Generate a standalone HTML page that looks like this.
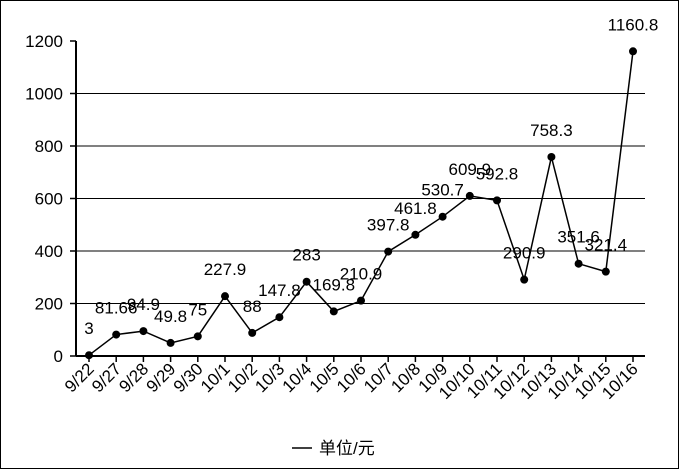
<!DOCTYPE html>
<html><head><meta charset="utf-8"><style>
body{margin:0;background:#fff}
svg text{font-family:"Liberation Sans","Noto Sans CJK SC",sans-serif;fill:#000}
</style></head><body>
<svg id="c" width="679" height="469" xmlns="http://www.w3.org/2000/svg">
<rect x="0.5" y="0.5" width="678" height="468" fill="#fff" stroke="#000"/>
</svg>
<script>
const categories=["9/22","9/27","9/28","9/29","9/30","10/1","10/2","10/3","10/4","10/5","10/6","10/7","10/8","10/9","10/10","10/11","10/12","10/13","10/14","10/15","10/16"];
const values=[3,81.66,94.9,49.8,75,227.9,88,147.8,283,169.8,210.9,397.8,461.8,530.7,609.9,592.8,290.9,758.3,351.6,321.4,1160.8];
const yTicks=[0,200,400,600,800,1000,1200];
const svg=document.getElementById('c');
const NS='http://www.w3.org/2000/svg';
const x0=89,x1=633,yBase=356,yTop=41,yMax=1200,axisX=76,gridR=645;
function sx(i){return x0+(x1-x0)*i/(categories.length-1);}
function sy(v){return yBase-(yBase-yTop)*v/yMax;}
function mk(t,a){const e=document.createElementNS(NS,t);for(const k in a)e.setAttribute(k,a[k]);svg.appendChild(e);return e;}
yTicks.forEach(t=>{
  const y=sy(t);
  if(t>0&&t<yMax){const g=mk('line',{x1:axisX,x2:gridR,y1:y,y2:y,stroke:'#000','stroke-width':1});
  
  }
  const tk=mk('line',{x1:70,x2:axisX,y1:y,y2:y,stroke:'#000','stroke-width':1.5});
  
  
  const tx=mk('text',{x:63,y:y+6,'text-anchor':'end','font-size':17});
  tx.textContent=t;
  
  
});
const ax=mk('line',{x1:axisX,x2:axisX,y1:yTop,y2:yBase,stroke:'#000','stroke-width':2});


const xa=mk('line',{x1:axisX,x2:gridR,y1:yBase,y2:yBase,stroke:'#000','stroke-width':2});


categories.forEach((c,i)=>{
  const x=sx(i);
  const tk=mk('line',{x1:x,x2:x,y1:yBase,y2:yBase+6,stroke:'#000','stroke-width':1.5});
  
  
  const t=mk('text',{x:x+6,y:yBase+14,'text-anchor':'end','font-size':17,transform:`rotate(-45 ${x+6} ${yBase+14})`});
  t.textContent=c;
  
  
});
const pl=mk('polyline',{points:values.map((v,i)=>sx(i)+','+sy(v)).join(' '),fill:'none',stroke:'#000','stroke-width':1.5});


values.forEach((v,i)=>{
  const p=mk('circle',{cx:sx(i),cy:sy(v),r:4,fill:'#000'});
  
  
  const t=mk('text',{x:sx(i),y:sy(v)-21,'text-anchor':'middle','font-size':17});
  t.textContent=v;
  
  
});
const ll=mk('line',{x1:292,x2:312,y1:448,y2:448,stroke:'#000','stroke-width':1.5});


const lt=mk('text',{x:319,y:454,'font-size':17});
lt.textContent='单位/元';


</script>
</body></html>
